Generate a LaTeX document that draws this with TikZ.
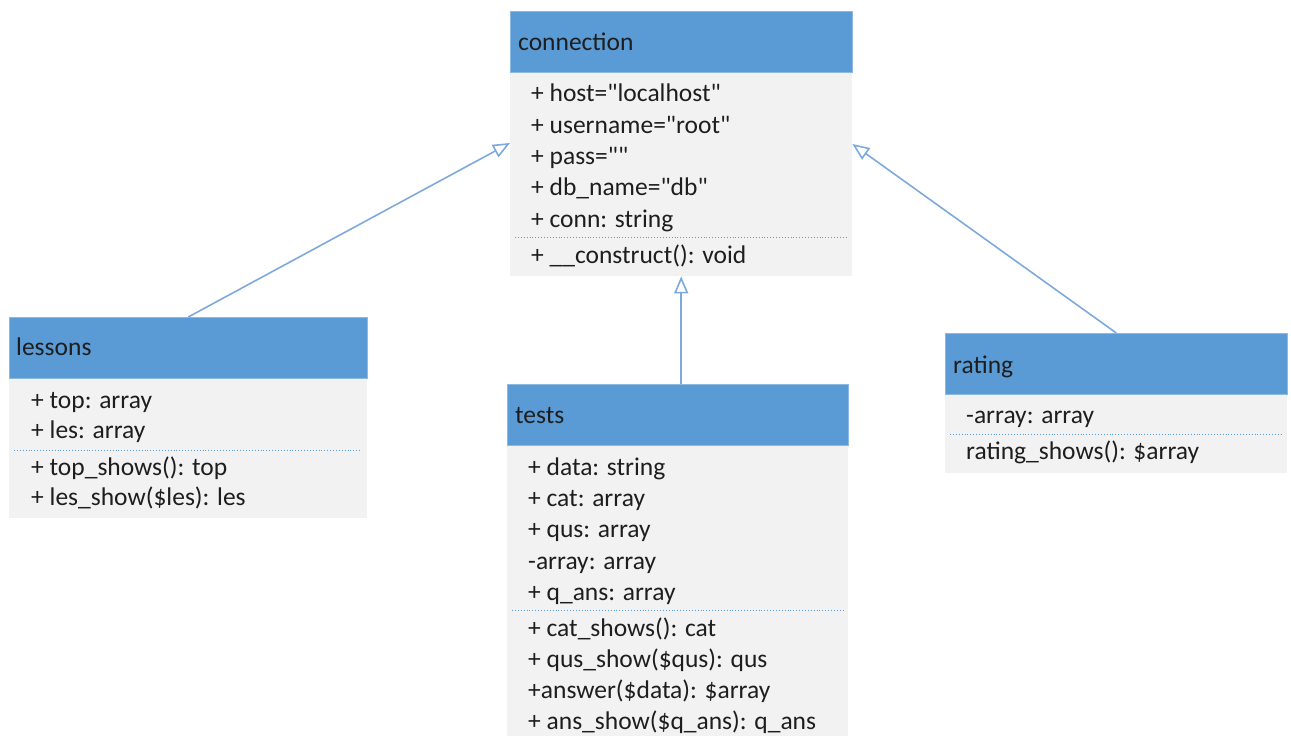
\documentclass[tikz,border=0pt]{standalone}
\usepackage{fontspec}
\setmainfont{Carlito}
\usetikzlibrary{arrows.meta}
\definecolor{hdr}{HTML}{5B9BD5}
\definecolor{bodyc}{HTML}{F2F2F2}
\definecolor{lnc}{HTML}{7FA9DC}
\definecolor{txt}{HTML}{1E1E1E}
\newcommand{\dq}{\XeTeXglyph\XeTeXcharglyph"22\relax}
\tikzset{
  hdrbox/.style={fill=hdr, draw=hdr!70!white, line width=0.6pt, anchor=north west, inner sep=0pt},
  bodybox/.style={fill=bodyc, draw=none, anchor=north west, inner sep=0pt},
  txtline/.style={anchor=base west, inner sep=0pt, text=txt, font=\fontsize{25.5}{31}\selectfont},
  sepline/.style={draw=hdr, dotted, line width=0.9pt},
  inherit/.style={draw=lnc, line width=1.6pt, -{Triangle[open, length=17pt, width=14pt, line width=1.6pt]}}
}
\begin{document}
\begin{tikzpicture}[x=1pt,y=-1pt]
\useasboundingbox (0,0) rectangle (1291,736);
% connection
\node[bodybox, minimum width=342pt, minimum height=204pt] (connB) at (510,72) {};
\node[hdrbox, minimum width=342pt, minimum height=61pt] (connH) at (510,11) {};
\node[txtline] (connT) at (518,50) {connection};
\node[txtline] (c1) at (531,101) {+ host=\dq localhost\dq};
\node[txtline] (c2) at (531,133) {+ username=\dq root\dq};
\node[txtline] (c3) at (531,164) {+ pass=\dq\dq};
\node[txtline] (c4) at (531,195) {+ db\_name=\dq db\dq};
\node[txtline] (c5) at (531,227) {+ conn: string};
\draw[sepline] (515,237) -- (847,237);
\node[txtline] (c6) at (531,263) {+ \_\_construct(): void};
% lessons
\node[bodybox, minimum width=358pt, minimum height=140pt] (lesB) at (9,378) {};
\node[hdrbox, minimum width=358pt, minimum height=61pt] (lesH) at (9,317) {};
\node[txtline] (lesT) at (16,355) {lessons};
\node[txtline] (l1) at (31,408) {+ top: array};
\node[txtline] (l2) at (31,438) {+ les: array};
\draw[sepline] (14,450) -- (362,450);
\node[txtline] (l3) at (31,475) {+ top\_shows(): top};
\node[txtline] (l4) at (31,505) {+ les\_show(\$les): les};
% tests
\node[bodybox, minimum width=341pt, minimum height=292pt] (tstB) at (507,445) {};
\node[hdrbox, minimum width=341pt, minimum height=61pt] (tstH) at (507,384) {};
\node[txtline] (tstT) at (515,423) {tests};
\node[txtline] (t1) at (528,475) {+ data: string};
\node[txtline] (t2) at (528,506) {+ cat: array};
\node[txtline] (t3) at (528,537) {+ qus: array};
\node[txtline] (t4) at (528,569) {-array: array};
\node[txtline] (t5) at (528,600) {+ q\_ans: array};
\draw[sepline] (512,610) -- (843,610);
\node[txtline] (t6) at (528,636) {+ cat\_shows(): cat};
\node[txtline] (t7) at (528,667) {+ qus\_show(\$qus): qus};
\node[txtline] (t8) at (528,698) {+answer(\$data): \$array};
\node[txtline] (t9) at (528,729) {+ ans\_show(\$q\_ans): q\_ans};
% rating
\node[bodybox, minimum width=342pt, minimum height=79pt] (ratB) at (945,394) {};
\node[hdrbox, minimum width=342pt, minimum height=61pt] (ratH) at (945,333) {};
\node[txtline] (ratT) at (953,373) {rating};
\node[txtline] (r1) at (966,423) {-array: array};
\draw[sepline] (950,434) -- (1282,434);
\node[txtline] (r2) at (966,459) {rating\_shows(): \$array};
% connectors
\coordinate (cLeft) at (connB.west |- 0,143);
\coordinate (cRight) at (connB.east |- 0,144);
\draw[inherit] (lesH.north) -- (cLeft);
\draw[inherit] (ratH.north) -- (cRight);
\draw[inherit] (tstH.north -| connB.south) -- (connB.south);
\end{tikzpicture}
\end{document}
